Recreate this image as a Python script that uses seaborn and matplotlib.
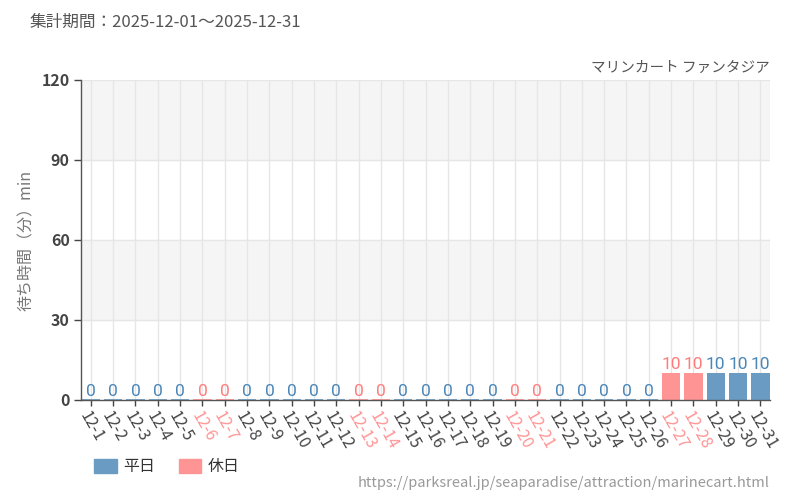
import pandas as pd
import matplotlib
matplotlib.use("Agg")
import matplotlib.pyplot as plt
import seaborn as sns
from matplotlib.patches import Patch

# ---- data ----
dates = ["12-%d" % d for d in range(1, 32)]
wait_min = [0, 0, 0, 0, 0, 0, 0, 0, 0, 0,
            0, 0, 0, 0, 0, 0, 0, 0, 0, 0,
            0, 0, 0, 0, 0, 0, 10, 10, 10, 10, 10]
holidays = ["12-6", "12-7", "12-13", "12-14", "12-20", "12-21", "12-27", "12-28"]
day_types = ["休日" if d in holidays else "平日" for d in dates]

WEEKDAY_C = "#6a9bc3"
HOLIDAY_C = "#ff9494"
WEEKDAY_TXT = "#4a86b8"
HOLIDAY_TXT = "#ff7c7c"

df = pd.DataFrame({"date": dates, "wait": wait_min, "type": day_types})

sns.set_theme(style="white")
plt.rcParams["font.family"] = ["Noto Sans CJK JP", "DejaVu Sans"]

fig = plt.figure(figsize=(8, 5), dpi=100)
ax = fig.add_axes([0.101, 0.2, 0.862, 0.64])

# background bands + grid
ax.axhspan(90, 120, color="#f5f5f5", zorder=0)
ax.axhspan(30, 60, color="#f5f5f5", zorder=0)
for y in [30, 60, 90, 120]:
    ax.axhline(y, color="#e6e6e6", lw=1, zorder=0.5)
for i in range(len(dates)):
    ax.axvline(i, color="#e6e6e6", lw=1, zorder=0.5)

palette = {"平日": WEEKDAY_C, "休日": HOLIDAY_C}
sns.barplot(data=df, x="date", y="wait", hue="type", hue_order=["平日", "休日"],
            palette=palette, dodge=False, width=0.82, saturation=1,
            legend=False, ax=ax, zorder=2)

txt_col = {"平日": WEEKDAY_TXT, "休日": HOLIDAY_TXT}
for cont, lvl in zip(ax.containers, ["平日", "休日"]):
    for bar in cont:
        if bar.get_height() == 0:
            # zero values still show as a thin strip
            bar.set_edgecolor(palette[lvl])
            bar.set_linewidth(1.2)
        else:
            bar.set_linewidth(0)
    ax.bar_label(cont, fmt="%d", padding=1, color=txt_col[lvl], fontsize=12.5,
                 family="Roboto")

ax.set_ylim(0, 120)
ax.set_xlim(-0.45, len(dates) - 0.55)
ax.set_yticks([0, 30, 60, 90, 120])
ax.set_xlabel("")
ax.set_ylabel("待ち時間（分）min", color="#777777", fontsize=11.5, labelpad=5)

ax.tick_params(axis="y", length=5, width=1, color="#444444", labelsize=11.5,
               labelcolor="#444444", pad=3, left=True)
ax.tick_params(axis="x", length=4, width=1, color="#444444", labelsize=11.5,
               pad=2, bottom=True)
for lab in ax.get_yticklabels():
    lab.set_fontweight("bold")
for lab, t in zip(ax.get_xticklabels(), day_types):
    lab.set_rotation(-60)
    lab.set_ha("left")
    lab.set_va("top")
    lab.set_rotation_mode("anchor")
    lab.set_color(HOLIDAY_C if t == "休日" else "#444444")

for s in ["top", "right"]:
    ax.spines[s].set_visible(False)
for s in ["left", "bottom"]:
    ax.spines[s].set_color("#555555")
    ax.spines[s].set_linewidth(1)

fig.text(30 / 800, 1 - 22 / 500, "集計期間：2025-12-01～2025-12-31",
         fontsize=12, color="#555555", ha="left", va="center")
fig.text(770 / 800, 1 - 68 / 500, "マリンカート ファンタジア",
         fontsize=10.5, color="#555555", ha="right", va="center")
fig.text(770 / 800, 1 - 483 / 500, "https://parksreal.jp/seaparadise/attraction/marinecart.html",
         fontsize=10.5, color="#999999", ha="right", va="center")

handles = [Patch(color=WEEKDAY_C, label="平日"), Patch(color=HOLIDAY_C, label="休日")]
fig.legend(handles=handles, loc="center left", bbox_to_anchor=(80 / 800, 1 - 467 / 500),
           ncol=2, frameon=False, fontsize=11.5, handlelength=1.4, handleheight=0.9,
           handletextpad=0.4, columnspacing=1.5, labelcolor="#333333")

fig.savefig("out.png", dpi=100)
